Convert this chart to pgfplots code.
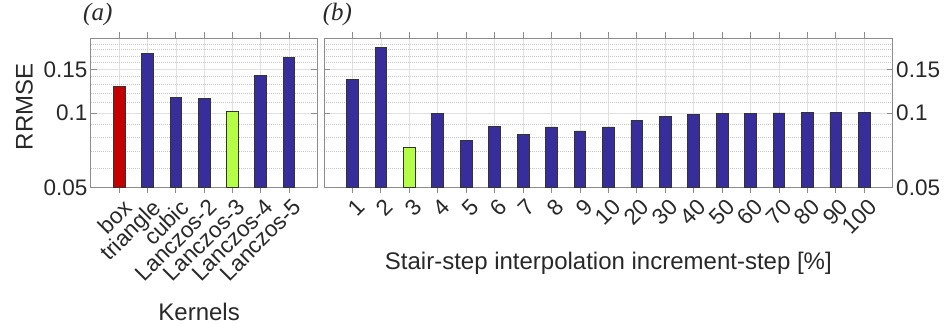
\documentclass[border=0pt]{standalone}
\usepackage{fontspec}
\setmainfont{Liberation Sans}
\newfontfamily\seriffont{Liberation Serif}
\usepackage{pgfplots}
\pgfplotsset{compat=1.18}
\definecolor{barblue}{RGB}{56,46,155}
\definecolor{barred}{RGB}{196,0,0}
\definecolor{bargreen}{RGB}{180,255,70}
\definecolor{axgray}{RGB}{140,140,140}
\definecolor{txt}{RGB}{40,40,40}
\begin{document}
\begin{tikzpicture}
\useasboundingbox (0pt,0pt) rectangle (948pt,-324pt);
% (a)
\begin{axis}[
  at={(91pt,-187.5pt)}, anchor=south west,
  scale only axis,
  width=226.3pt, height=149.2pt,
  ymode=log,
  log origin y=infty,
  ymin=0.05, ymax=0.2,
  ytick={0.05,0.1,0.15},
  yticklabels={0.05,0.1,0.15},
  minor ytick={0.06,0.07,0.08,0.09,0.11,0.12,0.13,0.14,0.16,0.17,0.18,0.19},
  ymajorgrids, yminorgrids, xmajorgrids,
  major grid style={black!12, line width=0.6pt},
  minor grid style={black!22, dash pattern=on 1pt off 1pt, line width=0.5pt},
  axis line style={axgray, line width=1pt},
  major tick length=6pt, minor tick length=0pt,
  tick align=inside,
  tick style={axgray, line width=0.8pt},
  tick label style={font=\fontsize{22.5}{26}\selectfont, text=txt},
  label style={font=\fontsize{24}{28}\selectfont, text=txt},
  xticklabel style={rotate=45, anchor=north east, inner sep=1pt, yshift=-4pt},
  ybar, bar width=11.7pt,
  enlargelimits=false,
  xmin=0, xmax=8,
  xtick={1,2,3,4,5,6,7},
  xticklabels={box,triangle,cubic,Lanczos-2,Lanczos-3,Lanczos-4,Lanczos-5},
  title={(a)},
  title style={font=\seriffont\itshape\fontsize{25}{29}\selectfont, text=txt, anchor=south west, inner sep=0pt, at={(axis description cs:0,1)}, xshift=-8pt, yshift=6pt},
  ylabel={RRMSE},
  ylabel style={at={(axis description cs:0,0.54)}, anchor=south, inner sep=0pt, yshift=58pt},
  xlabel={Kernels},
  xlabel style={at={(axis description cs:0.5,0)}, anchor=north, inner sep=0pt, yshift=-115.5pt, xshift=-5pt},
]
\addplot[fill=barred, draw=black!80, line width=0.8pt, bar shift=0pt] coordinates {(1,0.1274)};
\addplot[fill=barblue, draw=black!80, line width=0.8pt, bar shift=0pt] coordinates {(2,0.1738) (3,0.1153) (4,0.1146) (6,0.1415) (7,0.1679)};
\addplot[fill=bargreen, draw=black!80, line width=0.8pt, bar shift=0pt] coordinates {(5,0.1015)};
\end{axis}
% (b)
\begin{axis}[
  at={(324pt,-187.5pt)}, anchor=south west,
  scale only axis,
  width=568.7pt, height=149.2pt,
  ymode=log,
  log origin y=infty,
  ymin=0.05, ymax=0.2,
  ytick={0.05,0.1,0.15},
  yticklabels={0.05,0.1,0.15},
  minor ytick={0.06,0.07,0.08,0.09,0.11,0.12,0.13,0.14,0.16,0.17,0.18,0.19},
  ymajorgrids, yminorgrids, xmajorgrids,
  major grid style={black!12, line width=0.6pt},
  minor grid style={black!22, dash pattern=on 1pt off 1pt, line width=0.5pt},
  axis line style={axgray, line width=1pt},
  major tick length=6pt, minor tick length=0pt,
  tick align=inside,
  tick style={axgray, line width=0.8pt},
  tick label style={font=\fontsize{22.5}{26}\selectfont, text=txt},
  label style={font=\fontsize{24}{28}\selectfont, text=txt},
  xticklabel style={rotate=45, anchor=north east, inner sep=1pt, yshift=-4pt},
  ybar, bar width=11.7pt,
  enlargelimits=false,
  xmin=0, xmax=20,
  xtick={1,...,19},
  xticklabels={1,2,3,4,5,6,7,8,9,10,20,30,40,50,60,70,80,90,100},
  yticklabel pos=right,
  title={(b)},
  title style={font=\seriffont\itshape\fontsize{25}{29}\selectfont, text=txt, anchor=south west, inner sep=0pt, at={(axis description cs:0,1)}, xshift=-1.3pt, yshift=6pt},
  xlabel={Stair-step interpolation increment-step [\%]},
  xlabel style={at={(axis description cs:0.5,0)}, anchor=north, inner sep=0pt, yshift=-64.2pt},
]
\addplot[fill=barblue, draw=black!80, line width=0.8pt, bar shift=0pt] coordinates {(1,0.1364) (2,0.1837) (4,0.0996) (5,0.0775) (6,0.0883) (7,0.0817) (8,0.0878) (9,0.0846) (10,0.0878) (11,0.0933) (12,0.0966) (13,0.0983) (14,0.0991) (15,0.0996) (16,0.1000) (17,0.1003) (18,0.1003) (19,0.1006)};
\addplot[fill=bargreen, draw=black!80, line width=0.8pt, bar shift=0pt] coordinates {(3,0.0729)};
\end{axis}
\end{tikzpicture}
\end{document}
